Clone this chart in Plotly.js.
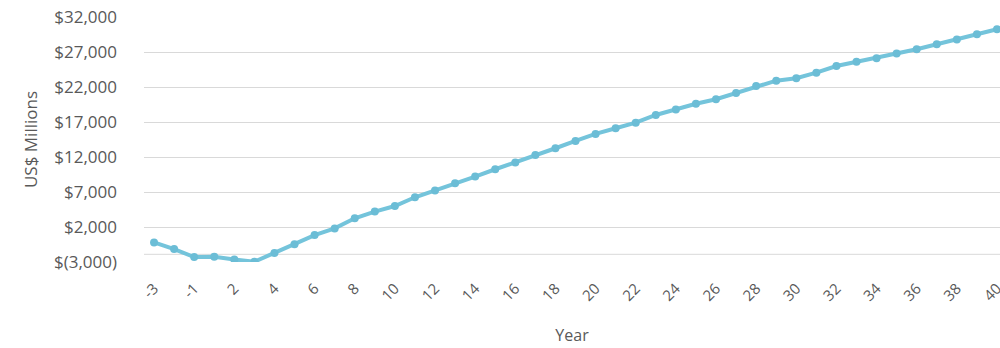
<!DOCTYPE html>
<html>
<head>
<meta charset="utf-8">
<script src="https://cdn.plot.ly/plotly-3.0.1.min.js"></script>
<style>
html,body{margin:0;padding:0;background:#fff;}
#chart{width:1000px;height:348px;}
</style>
</head>
<body>
<div id="chart"></div>
<script>
// Categories (years)
var years = ["-3","-2","-1","1","2","3","4","5","6","7","8","9","10","11","12","13","14","15","16","17","18","19","20","21","22","23","24","25","26","27","28","29","30","31","32","33","34","35","36","37","38","39","40"];
// Cumulative value, US$ millions
var values = [-200,-1150,-2300,-2250,-2650,-2950,-1700,-450,850,1800,3250,4200,5000,6250,7200,8250,9200,10250,11200,12300,13250,14300,15300,16100,16900,18000,18800,19600,20250,21150,22150,22900,23250,24050,25000,25600,26100,26800,27400,28100,28800,29550,30250];
// Y tick values and labels
var yTickVals = [-3000,2000,7000,12000,17000,22000,27000,32000];
var yTickText = ["$(3,000)","$2,000","$7,000","$12,000","$17,000","$22,000","$27,000","$32,000"];

var FONT = "Open Sans, Noto Sans, sans-serif";
var trace = {
  x: years,
  y: values,
  type: "scatter",
  mode: "lines+markers",
  line: {color: "#74c4db", width: 4},
  marker: {color: "#6bbdd6", size: 8},
  hoverinfo: "x+y"
};

var layout = {
  width: 1000, height: 348,
  margin: {l: 144, r: 0, t: 17, b: 86},
  paper_bgcolor: "#fff", plot_bgcolor: "#fff",
  showlegend: false,
  xaxis: {
    type: "category",
    range: [-0.5, 42.15],
    dtick: 2, tick0: 0,
    tickangle: -45,
    showgrid: false, zeroline: false, showline: false,
    ticks: "",
    ticklabelstandoff: 14,
    tickfont: {family: FONT, size: 15, color: "#595959"},
    title: {text: "Year", font: {family: FONT, size: 16, color: "#595959"}, standoff: 26}
  },
  yaxis: {
    range: [-3000, 32000],
    tickvals: yTickVals, ticktext: yTickText,
    showgrid: true, gridcolor: "#d9d9d9", gridwidth: 1,
    zeroline: false, showline: false, ticks: "",
    ticklabelstandoff: 26,
    tickfont: {family: FONT, size: 17, color: "#595959"},
    title: {text: "US$ Millions", font: {family: FONT, size: 17, color: "#595959"}, standoff: 12}
  },
  shapes: [
    {type: "line", xref: "paper", x0: 0, x1: 1, yref: "y", y0: -1900, y1: -1900,
     line: {color: "#d9d9d9", width: 1}, layer: "below"}
  ]
};

Plotly.newPlot("chart", [trace], layout, {staticPlot: true, displayModeBar: false});
</script>
</body>
</html>
